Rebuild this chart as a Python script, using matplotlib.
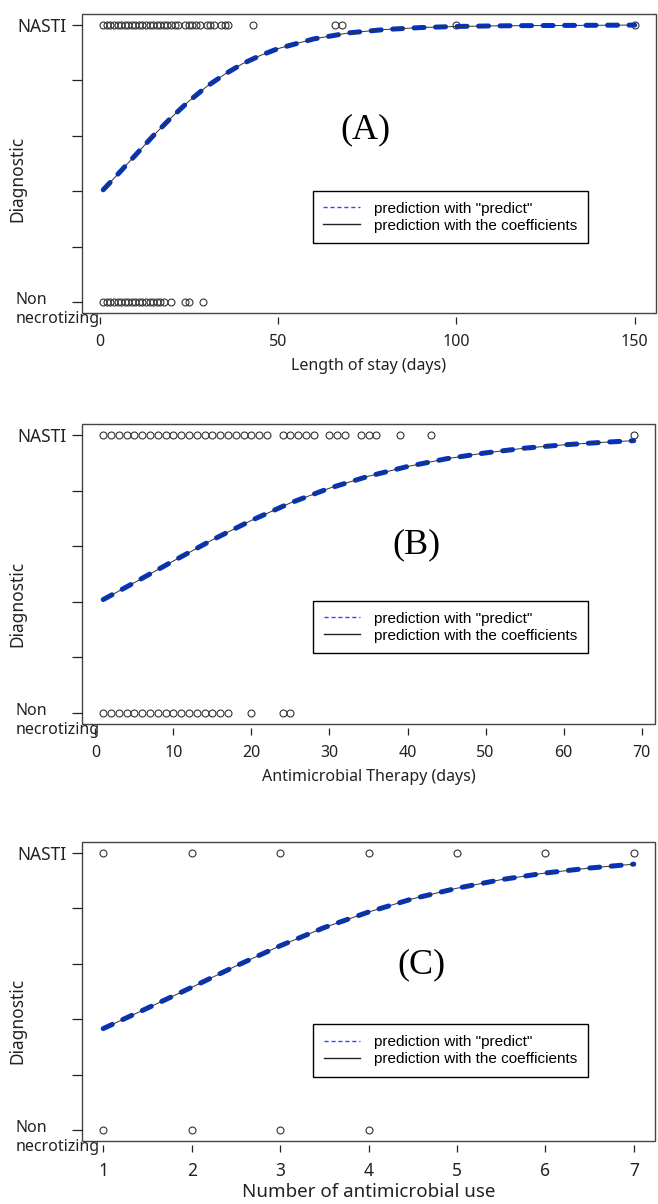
import matplotlib.pyplot as plt
from matplotlib.lines import Line2D
from matplotlib.patches import Rectangle


# Panel A: length of stay (days).
stay_nasti = [1, 2, 3, 4, 5, 6, 7, 8, 9, 10, 11, 12, 13, 14, 15, 16, 17, 18,
              19, 20, 21, 22, 24, 25, 26, 27, 28, 30, 31, 32, 34, 35, 36, 43,
              66, 68, 100, 150]
stay_non = [1, 2, 3, 4, 5, 6, 7, 8, 9, 10, 11, 12, 13, 14, 15, 16, 17, 18,
            20, 24, 25, 29]
stay_x = [1, 5, 10, 15, 20, 25, 30, 35, 40, 45, 50, 60, 70, 80, 90, 100,
          110, 120, 135, 150]
stay_p = [0.405, 0.46, 0.53, 0.60, 0.665, 0.725, 0.778, 0.822, 0.86, 0.89,
          0.915, 0.95, 0.972, 0.984, 0.991, 0.995, 0.997, 0.998, 0.999, 1.0]

# Panel B: antimicrobial therapy (days).
therapy_nasti = [1, 2, 3, 4, 5, 6, 7, 8, 9, 10, 11, 12, 13, 14, 15, 16, 17,
                 18, 19, 20, 21, 22, 24, 25, 26, 27, 28, 30, 31, 32, 34, 35,
                 36, 39, 43, 69]
therapy_non = [1, 2, 3, 4, 5, 6, 7, 8, 9, 10, 11, 12, 13, 14, 15, 16, 17,
               20, 24, 25]
therapy_x = [1, 5, 10, 15, 20, 25, 30, 35, 40, 45, 50, 55, 60, 65, 69]
therapy_p = [0.408, 0.469, 0.547, 0.623, 0.693, 0.756, 0.809, 0.852, 0.887,
             0.915, 0.936, 0.953, 0.965, 0.974, 0.98]

# Panel C: number of antimicrobial use.
use_nasti = [1, 2, 3, 4, 5, 6, 7]
use_non = [1, 2, 3, 4]
use_x = [1, 1.5, 2, 2.5, 3, 3.5, 4, 4.5, 5, 5.5, 6, 6.5, 7]
use_p = [0.366, 0.44, 0.515, 0.592, 0.665, 0.731, 0.787, 0.835, 0.873,
         0.904, 0.928, 0.946, 0.96]

blue = '#0033cc'
dark = '#222222'
plt.rcParams['font.family'] = ['Noto Sans', 'DejaVu Sans']

fig = plt.figure(figsize=(6.58, 12.04), dpi=100)


def panel(rect, nasti, non, cx, cp, xlim, xticks, xlabel, tag, tag_pos,
          leg_pos, diag_y, xsize=11.5, lpad=6):
    ax = fig.add_axes(rect)
    ax.plot(nasti, [1] * len(nasti), 'o', mfc='none', mec='#333333',
            ms=5.0, mew=0.8, clip_on=False)
    ax.plot(non, [0] * len(non), 'o', mfc='none', mec='#333333',
            ms=5.0, mew=0.8, clip_on=False)
    ax.plot(cx, cp, color=blue, lw=3.6, dashes=(2.0, 2.3),
            dash_capstyle='round', solid_capstyle='round')
    ax.plot(cx, cp, color='#333333', lw=0.7)
    ax.set_xlim(*xlim)
    ax.set_ylim(-0.04, 1.04)

    # frame drawn by hand, x ticks sit a little below it
    for s in ax.spines.values():
        s.set_color('none')
    ax.spines['bottom'].set_position(('outward', 3))
    ax.add_patch(Rectangle((0, 0), 1, 1, transform=ax.transAxes, fill=False,
                           ec='#444444', lw=1.0, clip_on=False))

    ax.set_xticks(xticks)
    ax.tick_params(axis='x', length=5, width=0.9, pad=7, labelsize=xsize,
                   colors=dark)
    ax.set_yticks([0, 0.2, 0.4, 0.6, 0.8, 1.0])
    ax.set_yticklabels(['', '', '', '', '', 'NASTI'])
    ax.tick_params(axis='y', length=7.2, width=0.9, pad=4, labelsize=12.5,
                   colors=dark)
    ax.set_xlabel(xlabel, fontsize=xsize + 0.5 * (lpad < 6) * 2, color=dark,
                  labelpad=lpad)

    ax.annotate('Non\nnecrotizing', xy=(0, 0),
                xycoords=('axes fraction', 'data'), xytext=(-48, 7),
                textcoords='offset points', ha='left', va='top',
                fontsize=11.5, color=dark, linespacing=1.25,
                annotation_clip=False)
    ax.text(-0.113, diag_y, 'Diagnostic', transform=ax.transAxes,
            rotation=90, ha='center', va='center', fontsize=12.5, color=dark)

    ax.text(tag_pos[0], tag_pos[1], tag, transform=ax.transAxes,
            ha='center', va='center', fontsize=26, family='Liberation Serif')

    handles = [Line2D([], [], color='#2850ff', lw=1.0, dashes=(3, 2)),
               Line2D([], [], color='#222222', lw=1.0)]
    leg = ax.legend(handles, ['prediction with "predict"',
                              'prediction with the coefficients'],
                    loc='upper left', bbox_to_anchor=leg_pos,
                    prop={'family': 'Liberation Sans', 'size': 11},
                    fancybox=False, edgecolor='black', framealpha=1,
                    handlelength=2.4, borderpad=0.7, labelspacing=0.2,
                    handletextpad=0.9, borderaxespad=0)
    leg.get_frame().set_linewidth(1.0)
    return ax


W, H = 658.0, 1204.0
panel([82 / W, 1 - 313 / H, 574 / W, 299 / H], stay_nasti, stay_non,
      stay_x, stay_p, (-4.96, 155.96), [0, 50, 100, 150],
      'Length of stay (days)', '(A)', (0.493, 0.612), (0.402, 0.408), 0.45)

panel([82 / W, 1 - 724 / H, 573 / W, 300 / H], therapy_nasti, therapy_non,
      therapy_x, therapy_p, (-1.72, 71.72), [0, 10, 20, 30, 40, 50, 60, 70],
      'Antimicrobial Therapy (days)', '(B)', (0.583, 0.597), (0.403, 0.41),
      0.40)

panel([82 / W, 1 - 1141 / H, 573 / W, 299 / H], use_nasti, use_non,
      use_x, use_p, (0.76, 7.24), [1, 2, 3, 4, 5, 6, 7],
      'Number of antimicrobial use', '(C)', (0.592, 0.589), (0.403, 0.39),
      0.40, xsize=12.5, lpad=2)

fig.savefig('out.png', dpi=100)
